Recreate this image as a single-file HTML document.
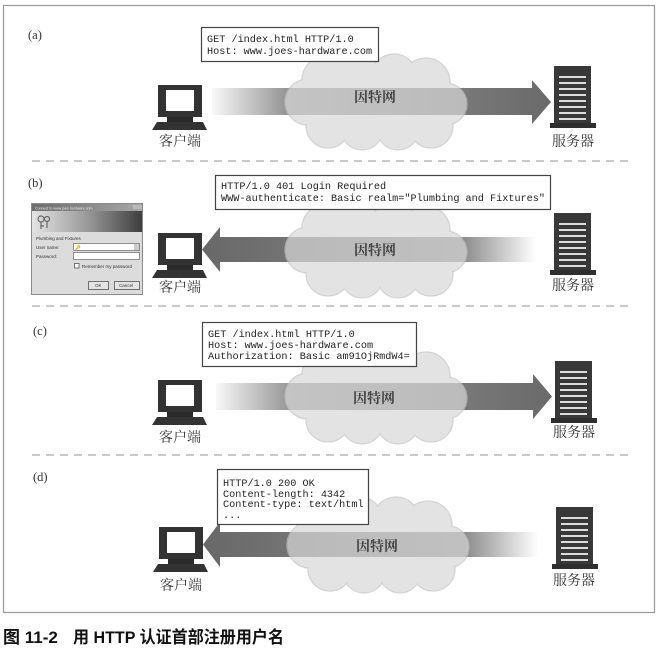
<!DOCTYPE html>
<html><head><meta charset="utf-8">
<style>
html,body{margin:0;padding:0;background:#fff;}
svg{display:block;}
.mono{font-family:"Liberation Mono",monospace;font-size:10.2px;fill:#222;}
.lbl{font-family:"Liberation Serif","Noto Serif CJK SC",serif;font-size:14px;fill:#333;}
.net{font-family:"Liberation Serif","Noto Serif CJK SC",serif;font-size:14px;font-weight:bold;fill:#444;}
.sec{font-family:"Liberation Serif",serif;font-size:12.5px;fill:#333;}
.cap{font-family:"Liberation Sans","Noto Sans CJK SC",sans-serif;font-size:17px;font-weight:bold;fill:#111;}
.tiny{font-family:"Liberation Sans",sans-serif;font-size:4.5px;fill:#333;}
</style></head>
<body>
<svg width="660" height="648" viewBox="0 0 660 648" xmlns="http://www.w3.org/2000/svg">
<defs>
  <linearGradient id="gA" gradientUnits="userSpaceOnUse" x1="212" y1="0" x2="550" y2="0">
    <stop offset="0" stop-color="#f8f8f8"/><stop offset="0.22" stop-color="#959595"/><stop offset="1" stop-color="#6a6a6a"/>
  </linearGradient>
  <linearGradient id="gC" gradientUnits="userSpaceOnUse" x1="216" y1="0" x2="552" y2="0">
    <stop offset="0" stop-color="#f8f8f8"/><stop offset="0.22" stop-color="#959595"/><stop offset="1" stop-color="#6a6a6a"/>
  </linearGradient>
  <linearGradient id="gB" gradientUnits="userSpaceOnUse" x1="202" y1="0" x2="536" y2="0">
    <stop offset="0" stop-color="#686868"/><stop offset="0.78" stop-color="#8a8a8a"/><stop offset="1" stop-color="#ffffff"/>
  </linearGradient>
  <linearGradient id="gD" gradientUnits="userSpaceOnUse" x1="203" y1="0" x2="538" y2="0">
    <stop offset="0" stop-color="#686868"/><stop offset="0.78" stop-color="#8a8a8a"/><stop offset="1" stop-color="#ffffff"/>
  </linearGradient>
  <linearGradient id="hdr" x1="0" y1="0" x2="1" y2="0">
    <stop offset="0" stop-color="#e4e4e4"/><stop offset="0.5" stop-color="#9a9a9a"/><stop offset="1" stop-color="#3e3e3e"/>
  </linearGradient>
  <linearGradient id="ttl" x1="0" y1="0" x2="1" y2="0">
    <stop offset="0" stop-color="#6c6c6c"/><stop offset="1" stop-color="#a8a8a8"/>
  </linearGradient>
  <g id="cloud">
    <g opacity="0.7">
      <g fill="#d8d8d8" stroke="#c2c2c2" stroke-width="1.3">
        <circle cx="-68" cy="0" r="23"/><circle cx="-50" cy="-22" r="24"/><circle cx="-18" cy="-26" r="22"/>
        <circle cx="18" cy="-25" r="23"/><circle cx="50" cy="-20" r="24"/><circle cx="70" cy="2" r="21"/>
        <circle cx="55" cy="24" r="22"/><circle cx="22" cy="27" r="21"/><circle cx="-14" cy="27" r="21"/>
        <circle cx="-48" cy="24" r="22"/>
      </g>
      <g fill="#d8d8d8">
        <circle cx="-68" cy="0" r="22"/><circle cx="-50" cy="-22" r="23"/><circle cx="-18" cy="-26" r="21"/>
        <circle cx="18" cy="-25" r="22"/><circle cx="50" cy="-20" r="23"/><circle cx="70" cy="2" r="20"/>
        <circle cx="55" cy="24" r="21"/><circle cx="22" cy="27" r="20"/><circle cx="-14" cy="27" r="20"/>
        <circle cx="-48" cy="24" r="21"/>
        <ellipse cx="0" cy="0" rx="68" ry="32"/>
      </g>
    </g>
  </g>
  <g id="pc">
    <rect x="0" y="0" width="44" height="32" fill="#333"/>
    <rect x="8" y="5" width="28" height="21" fill="#fff"/>
    <rect x="9" y="32" width="26" height="5" fill="#2a2a2a"/>
    <polygon points="-1,37 45,37 49,45 -6,45" fill="#333"/>
  </g>
  <g id="srv">
    <rect x="0" y="0" width="37" height="57" fill="#383838"/>
    <rect x="-4" y="57" width="46" height="5" fill="#2e2e2e"/>
    <g stroke="#f4f4f4" stroke-width="1.8">
      <line x1="5" y1="11" x2="32" y2="11"/><line x1="5" y1="17" x2="32" y2="17"/>
      <line x1="5" y1="23" x2="32" y2="23"/><line x1="5" y1="29" x2="32" y2="29"/>
      <line x1="5" y1="35" x2="32" y2="35"/><line x1="5" y1="41" x2="32" y2="41"/>
      <line x1="5" y1="47" x2="32" y2="47"/><line x1="5" y1="53" x2="32" y2="53"/>
    </g>
  </g>
</defs>

<!-- frame -->
<rect x="3.5" y="5.5" width="651" height="607" fill="none" stroke="#9a9a9a" stroke-width="1.2"/>

<!-- separators -->
<g stroke="#b8b8b8" stroke-width="1.5" stroke-dasharray="8,6">
  <line x1="32" y1="161" x2="634" y2="161"/>
  <line x1="32" y1="306" x2="634" y2="306"/>
  <line x1="32" y1="455" x2="634" y2="455"/>
</g>

<!-- ===== (a) ===== -->
<text class="sec" x="28" y="39">(a)</text>
<polygon points="212,88 532,88 532,80 551,102 532,124 532,115 212,115" fill="url(#gA)"/>
<use href="#cloud" transform="translate(376,102)"/>
<text class="net" x="375" y="102" text-anchor="middle">因特网</text>
<rect x="201.5" y="27.5" width="177" height="34" fill="#fff" stroke="#444" stroke-width="1.2"/>
<text class="mono" x="207" y="42">GET /index.html HTTP/1.0</text>
<text class="mono" x="207" y="54">Host: www.joes-hardware.com</text>
<use href="#pc" transform="translate(158,85)"/>
<text class="lbl" x="180" y="146" text-anchor="middle">客户端</text>
<use href="#srv" transform="translate(554,66)"/>
<text class="lbl" x="573" y="146" text-anchor="middle">服务器</text>

<!-- ===== (b) ===== -->
<text class="sec" x="28" y="187">(b)</text>
<polygon points="202,249.5 220,227 220,237 536,237 536,262 220,262 220,272" fill="url(#gB)"/>
<use href="#cloud" transform="translate(376,250)"/>
<text class="net" x="375" y="255" text-anchor="middle">因特网</text>
<rect x="215.5" y="175.5" width="335" height="34" fill="#fff" stroke="#444" stroke-width="1.2"/>
<text class="mono" x="221" y="189">HTTP/1.0 401 Login Required</text>
<text class="mono" x="221" y="201">WWW-authenticate: Basic realm="Plumbing and Fixtures"</text>
<use href="#pc" transform="translate(158,233)"/>
<text class="lbl" x="180" y="292" text-anchor="middle">客户端</text>
<use href="#srv" transform="translate(554,213)"/>
<text class="lbl" x="573" y="290" text-anchor="middle">服务器</text>

<!-- dialog -->
<rect x="31.5" y="203.5" width="111" height="91" fill="#dcdcdc" stroke="#8a8a8a"/>
<rect x="32" y="204" width="110" height="7" fill="url(#ttl)"/>
<text class="tiny" x="35" y="209.5" style="fill:#eee;font-size:3.6px">Connect to www.joes-hardware.com</text>
<rect x="133" y="205" width="4" height="4" fill="#bbb"/><rect x="137.5" y="205" width="4" height="4" fill="#bbb"/>
<rect x="32" y="211" width="110" height="21" fill="url(#hdr)"/>
<g fill="none" stroke="#666" stroke-width="1.2">
  <circle cx="41" cy="219" r="3"/><path d="M41 222 L41 229 M41 226 L44 226"/>
  <circle cx="47" cy="219" r="2.5"/><path d="M47 221.5 L47 228"/>
</g>
<text class="tiny" x="36" y="240">Plumbing and Fixtures</text>
<text class="tiny" x="36" y="249">User name:</text>
<rect x="73.5" y="243.5" width="66" height="7" fill="#fff" stroke="#777" stroke-width="0.8"/>
<rect x="134" y="244" width="5" height="6" fill="#ccc"/>
<text class="tiny" x="75" y="249">🔑</text>
<text class="tiny" x="36" y="258">Password:</text>
<rect x="73.5" y="252.5" width="66" height="7" fill="#fff" stroke="#777" stroke-width="0.8"/>
<rect x="74.5" y="263.5" width="4.5" height="4.5" fill="#fff" stroke="#555" stroke-width="0.8"/>
<text class="tiny" x="82" y="268">Remember my password</text>
<rect x="88.5" y="281.5" width="20" height="8" fill="#e4e4e4" stroke="#555" stroke-width="0.8"/>
<text class="tiny" x="95" y="287">OK</text>
<rect x="114.5" y="281.5" width="25" height="8" fill="#e4e4e4" stroke="#555" stroke-width="0.8"/>
<text class="tiny" x="119" y="287">Cancel</text>

<!-- ===== (c) ===== -->
<text class="sec" x="33" y="335">(c)</text>
<polygon points="216,383 533,383 533,374 552,396.5 533,419 533,410 216,410" fill="url(#gC)"/>
<use href="#cloud" transform="translate(376,396)"/>
<text class="net" x="374" y="403" text-anchor="middle">因特网</text>
<rect x="202.5" y="322.5" width="214" height="44" fill="#fff" stroke="#444" stroke-width="1.2"/>
<text class="mono" x="208" y="337">GET /index.html HTTP/1.0</text>
<text class="mono" x="208" y="348">Host: www.joes-hardware.com</text>
<text class="mono" x="208" y="359">Authorization: Basic am91OjRmdW4=</text>
<use href="#pc" transform="translate(158,380)"/>
<text class="lbl" x="180" y="442" text-anchor="middle">客户端</text>
<use href="#srv" transform="translate(555,361)"/>
<text class="lbl" x="574" y="437" text-anchor="middle">服务器</text>

<!-- ===== (d) ===== -->
<text class="sec" x="33" y="481">(d)</text>
<polygon points="203,544.5 220,522 220,532 538,532 538,557 220,557 220,567" fill="url(#gD)"/>
<use href="#cloud" transform="translate(378,545)"/>
<text class="net" x="377" y="551" text-anchor="middle">因特网</text>
<rect x="217.5" y="469.5" width="151" height="55" fill="#fff" stroke="#444" stroke-width="1.2"/>
<text class="mono" x="223" y="486">HTTP/1.0 200 OK</text>
<text class="mono" x="223" y="497">Content-length: 4342</text>
<text class="mono" x="223" y="507">Content-type: text/html</text>
<text class="mono" x="223" y="518">...</text>
<use href="#pc" transform="translate(159,527)"/>
<text class="lbl" x="181" y="590" text-anchor="middle">客户端</text>
<use href="#srv" transform="translate(556,507)"/>
<text class="lbl" x="574" y="585" text-anchor="middle">服务器</text>

<!-- caption -->
<text class="cap" x="3" y="643">图 11-2</text>
<text class="cap" x="73" y="643" textLength="211" lengthAdjust="spacingAndGlyphs">用 HTTP 认证首部注册用户名</text>
</svg>
</body></html>
